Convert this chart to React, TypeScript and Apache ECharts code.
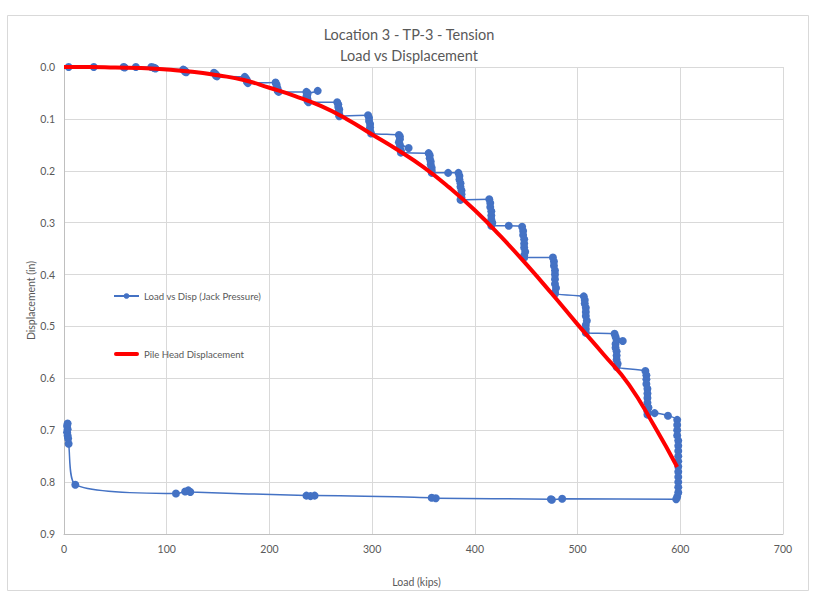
import React, { useEffect, useRef } from "react";
import * as echarts from "echarts";

const titleLines = ["Location 3 - TP-3 - Tension", "Load vs Displacement"];
const xAxisName = "Load (kips)";
const yAxisName = "Displacement (in)";
const seriesNames = ["Load vs Disp (Jack Pressure)", "Pile Head Displacement"];

// Load vs Disp (Jack Pressure): [load (kips), displacement (in)]
const jackPressure: [number, number][] = [
  [4.5, 0.0], [29, 0.0], [58, 0.0], [59, 0.001], [70, 0.0], [85, 0.0], [87, 0.001], [88, 0.002], [89, 0.003],
  [116, 0.005], [117, 0.006], [118, 0.008], [118, 0.009], [119, 0.01],
  [146, 0.011], [147, 0.013], [148, 0.015], [148, 0.017], [149, 0.018],
  [176, 0.019], [177, 0.022], [178, 0.025], [178, 0.028], [179, 0.031],
  [206, 0.03], [207, 0.034], [207, 0.038], [208, 0.042], [208, 0.046], [209, 0.048],
  [236, 0.048], [237, 0.05], [247, 0.046], [237, 0.053], [236, 0.057], [237, 0.061], [237, 0.065], [238, 0.068],
  [266, 0.068], [267, 0.072], [267, 0.077], [268, 0.082], [267, 0.087], [268, 0.091], [268, 0.095],
  [296, 0.093], [297, 0.098], [297, 0.104], [298, 0.11], [298, 0.116], [298, 0.122], [299, 0.128],
  [326, 0.131], [327, 0.134], [327, 0.139], [326, 0.145], [335.5, 0.156], [327, 0.15], [327, 0.156], [328, 0.161], [328, 0.165],
  [355, 0.166], [356, 0.17], [356, 0.176], [357, 0.182], [357, 0.188], [358, 0.194], [358, 0.2], [358, 0.204],
  [374, 0.204],
  [384, 0.204], [385, 0.21], [385, 0.217], [386, 0.224], [386, 0.231], [387, 0.238], [387, 0.245], [387, 0.252], [386, 0.256],
  [414, 0.255], [415, 0.262], [415, 0.27], [416, 0.278], [416, 0.286], [416, 0.294], [417, 0.3], [416, 0.306],
  [433, 0.306],
  [446, 0.308], [447, 0.316], [447, 0.324], [448, 0.332], [448, 0.34], [448, 0.348], [449, 0.356], [448, 0.363], [448, 0.367],
  [476, 0.367], [477, 0.375], [477, 0.383], [478, 0.392], [478, 0.4], [478, 0.409], [478, 0.418], [479, 0.426], [478, 0.434], [478, 0.437],
  [506, 0.442], [507, 0.449], [507, 0.456], [508, 0.464], [508, 0.472], [508, 0.48], [509, 0.489], [508, 0.497], [508, 0.505], [508, 0.512],
  [536, 0.514], [537, 0.52], [538, 0.526], [544, 0.528], [537, 0.534], [537, 0.541], [538, 0.548], [538, 0.556], [538, 0.564], [539, 0.572], [538, 0.578],
  [566, 0.586], [567, 0.594], [567, 0.602], [567, 0.611], [568, 0.62], [568, 0.629], [568, 0.638], [568, 0.647], [569, 0.656], [568, 0.664], [568, 0.67],
  [575, 0.667], [588, 0.672],
  [597, 0.68], [597, 0.69], [597, 0.7], [597, 0.71], [598, 0.72], [598, 0.73], [598, 0.74], [598, 0.75], [598, 0.76], [598, 0.77],
  [598, 0.78], [598, 0.79], [598, 0.8], [598, 0.81], [598, 0.82], [597, 0.828], [596, 0.833],
  [485, 0.832], [475, 0.834], [474, 0.833], [362, 0.831], [358, 0.83], [244, 0.826], [240, 0.827], [236, 0.826],
  [123, 0.819], [121, 0.816], [118, 0.818], [109, 0.822], [11, 0.805],
  [4.5, 0.726], [4, 0.716], [3.5, 0.71], [3, 0.704], [3.5, 0.698], [3, 0.692], [3.5, 0.687],
];

// Pile Head Displacement: [load (kips), displacement (in)]
const pileHead: [number, number][] = [
  [0, 0], [25, 0], [50, 0.001], [75, 0.002], [100, 0.005], [125, 0.009], [150, 0.016], [175, 0.025],
  [200, 0.04], [225, 0.056], [250, 0.075], [275, 0.1], [300, 0.13], [325, 0.16], [350, 0.193], [375, 0.232],
  [400, 0.276], [425, 0.326], [450, 0.38], [475, 0.437], [500, 0.496], [525, 0.553], [550, 0.612], [575, 0.693], [597, 0.771],
];

const FONT = "Lato, 'Open Sans', sans-serif";
const TEXT = "#595959";

export default function App() {
  const ref = useRef<HTMLDivElement>(null);
  useEffect(() => {
    if (!ref.current) return;
    const chart = echarts.init(ref.current, undefined, { renderer: "svg" });
    chart.setOption({
      animation: false,
      backgroundColor: "#ffffff",
      textStyle: { fontFamily: FONT },
      title: {
        text: titleLines.join("\n"),
        left: "center",
        top: 19,
        textStyle: { fontFamily: FONT, fontSize: 14.5, fontWeight: "normal", color: TEXT, lineHeight: 21 },
      },
      graphic: [
        {
          type: "rect",
          shape: { x: 7.5, y: 15.5, width: 801, height: 575 },
          style: { fill: "none", stroke: "#D9D9D9", lineWidth: 1 },
          silent: true,
          z: -1,
        },
      ],
      legend: {
        orient: "vertical",
        left: 108,
        top: 286,
        itemGap: 48,
        itemWidth: 25,
        itemHeight: 7,
        textStyle: { fontFamily: FONT, fontSize: 9.6, color: TEXT },
        data: [
          { name: seriesNames[0] },
          { name: seriesNames[1], icon: "path://M2,0 L24,0 A2,2 0 0 1 24,4 L2,4 A2,2 0 0 1 2,0 Z" },
        ],
      },
      grid: { left: 64, right: 35, top: 67, bottom: 72, containLabel: false },
      xAxis: {
        type: "value",
        min: 0,
        max: 700,
        interval: 100,
        name: xAxisName,
        nameLocation: "middle",
        nameGap: 42,
        nameTextStyle: { fontFamily: FONT, fontSize: 10.5, color: TEXT, padding: [0, 14, 0, 0] },
        axisLine: { show: true, onZero: false, lineStyle: { color: "#BFBFBF" } },
        axisTick: { show: false },
        axisLabel: { fontFamily: FONT, fontSize: 10.5, color: TEXT, margin: 9 },
        splitLine: { show: true, lineStyle: { color: "#D9D9D9" } },
      },
      yAxis: {
        type: "value",
        inverse: true,
        min: 0,
        max: 0.9,
        interval: 0.1,
        name: yAxisName,
        nameLocation: "middle",
        nameGap: 28,
        nameMoveOverlap: false,
        nameTextStyle: { fontFamily: FONT, fontSize: 10.5, color: TEXT },
        axisLine: { show: true, lineStyle: { color: "#BFBFBF" } },
        axisTick: { show: false },
        axisLabel: {
          fontFamily: FONT,
          fontSize: 10.5,
          color: TEXT,
          margin: 9,
          formatter: (v: number) => v.toFixed(1),
        },
        splitLine: { show: true, lineStyle: { color: "#D9D9D9" } },
      },
      series: [
        {
          name: seriesNames[0],
          type: "line",
          data: jackPressure,
          smooth: 0.25,
          symbol: "circle",
          symbolSize: 8,
          showAllSymbol: true,
          itemStyle: { color: "#4472C4" },
          lineStyle: { color: "#4472C4", width: 1.5 },
          z: 2,
        },
        {
          name: seriesNames[1],
          type: "line",
          data: pileHead,
          smooth: true,
          symbol: "none",
          itemStyle: { color: "#FF0000" },
          lineStyle: { color: "#FF0000", width: 4 },
          z: 3,
        },
      ],
    });
    return () => chart.dispose();
  }, []);
  return (
    <div
      ref={ref}
      style={{ position: "fixed", left: 0, top: 0, width: 818, height: 606, background: "#fff" }}
    />
  );
}
